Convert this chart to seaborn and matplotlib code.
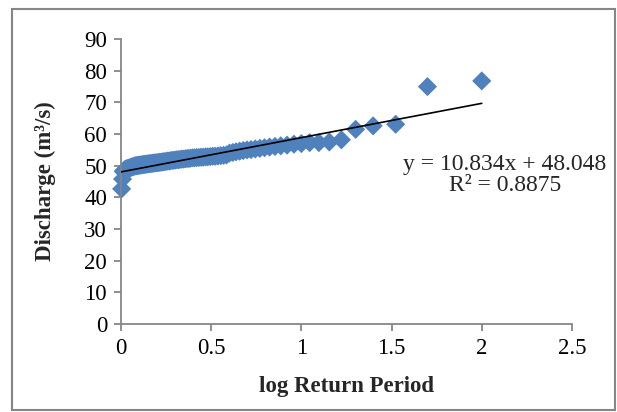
import matplotlib
matplotlib.use("Agg")
import matplotlib.pyplot as plt
import seaborn as sns
import pandas as pd
from matplotlib.patches import Rectangle

# log10 of return period for each ranked flow (rank 1 = largest)
log_return_period = [
    2.000, 1.699, 1.523, 1.398, 1.301, 1.222, 1.155, 1.097, 1.046, 1.000,
    0.959, 0.921, 0.886, 0.854, 0.824, 0.796, 0.770, 0.745, 0.721, 0.699,
    0.678, 0.658, 0.638, 0.620, 0.602, 0.585, 0.569, 0.553, 0.538, 0.523,
    0.509, 0.495, 0.481, 0.469, 0.456, 0.444, 0.432, 0.420, 0.409, 0.398,
    0.387, 0.377, 0.367, 0.357, 0.347, 0.337, 0.328, 0.319, 0.310, 0.301,
    0.292, 0.284, 0.276, 0.268, 0.260, 0.252, 0.244, 0.237, 0.229, 0.222,
    0.215, 0.208, 0.201, 0.194, 0.187, 0.180, 0.174, 0.168, 0.161, 0.155,
    0.149, 0.143, 0.137, 0.131, 0.125, 0.119, 0.114, 0.108, 0.102, 0.097,
    0.092, 0.086, 0.081, 0.076, 0.071, 0.066, 0.060, 0.056, 0.051, 0.046,
    0.041, 0.036, 0.031, 0.027, 0.022, 0.018, 0.013, 0.009, 0.004,
]

discharge = [
    76.8, 75.0, 63.1, 62.6, 61.5, 58.2, 57.5, 57.3, 57.3, 57.0,
    56.8, 56.5, 56.3, 56.1, 55.9, 55.7, 55.5, 55.3, 55.1, 55.0,
    54.8, 54.6, 54.4, 54.2, 54.0, 53.4, 53.3, 53.2, 53.1, 53.0,
    53.0, 52.9, 52.8, 52.8, 52.7, 52.7, 52.6, 52.6, 52.5, 52.5,
    52.4, 52.3, 52.3, 52.2, 52.1, 52.1, 52.0, 51.9, 51.9, 51.8,
    51.7, 51.7, 51.6, 51.5, 51.5, 51.4, 51.3, 51.3, 51.2, 51.1,
    51.1, 51.0, 51.0, 50.9, 50.9, 50.8, 50.8, 50.7, 50.7, 50.6,
    50.6, 50.5, 50.5, 50.4, 50.4, 50.3, 50.3, 50.2, 50.2, 50.1,
    50.1, 50.0, 50.0, 49.9, 49.8, 49.7, 49.6, 49.5, 49.4, 49.3,
    49.2, 49.1, 49.0, 48.9, 48.8, 48.5, 48.2, 45.8, 42.7,
]

# Excel linear trendline
slope = 10.834
intercept = 48.048
r_squared = 0.8875

df = pd.DataFrame({"log Return Period": log_return_period, "Discharge": discharge})

sns.set_style("white")
plt.rcParams["font.family"] = ["Liberation Serif", "DejaVu Serif"]

fig = plt.figure(figsize=(6.17, 4.12), dpi=100)
ax = fig.add_axes([0.196, 0.2136, 0.731, 0.6914])

sns.scatterplot(data=df, x="log Return Period", y="Discharge", marker="D",
                s=95, color="#4F81BD", edgecolor="none", linewidth=0, ax=ax,
                zorder=2, clip_on=False)

x_fit = [0, max(log_return_period)]
ax.plot(x_fit, [intercept + slope * v for v in x_fit], color="black", linewidth=1.2, zorder=3)

ax.set_xlim(0, 2.5)
ax.set_ylim(0, 90)
ax.set_xticks([0, 0.5, 1, 1.5, 2, 2.5])
ax.set_xticklabels(["0", "0.5", "1", "1.5", "2", "2.5"])
ax.set_yticks(range(0, 91, 10))

for side in ["top", "right"]:
    ax.spines[side].set_visible(False)
for side in ["left", "bottom"]:
    ax.spines[side].set_color("#868686")
    ax.spines[side].set_linewidth(1.3)
ax.tick_params(axis="both", direction="out", length=5, width=1.3, color="#868686",
               labelsize=16.5, labelcolor="black", pad=5, left=True, bottom=True)

ax.set_xlabel("log Return Period", fontsize=16.5, fontweight="bold", labelpad=12)
ax.set_ylabel("Discharge (m³/s)", fontsize=16.5, fontweight="bold", labelpad=20)

fig.text(0.818, 0.576, "y = 10.834x + 48.048\nR² = 0.8875", ha="center", va="center",
         fontsize=17, linespacing=1.0)

# outer chart border
fig.patches.append(Rectangle((0.019, 0.004), 0.977, 0.974, transform=fig.transFigure,
                             fill=False, edgecolor="#868686", linewidth=1.5))

fig.savefig("out.png", dpi=100)
